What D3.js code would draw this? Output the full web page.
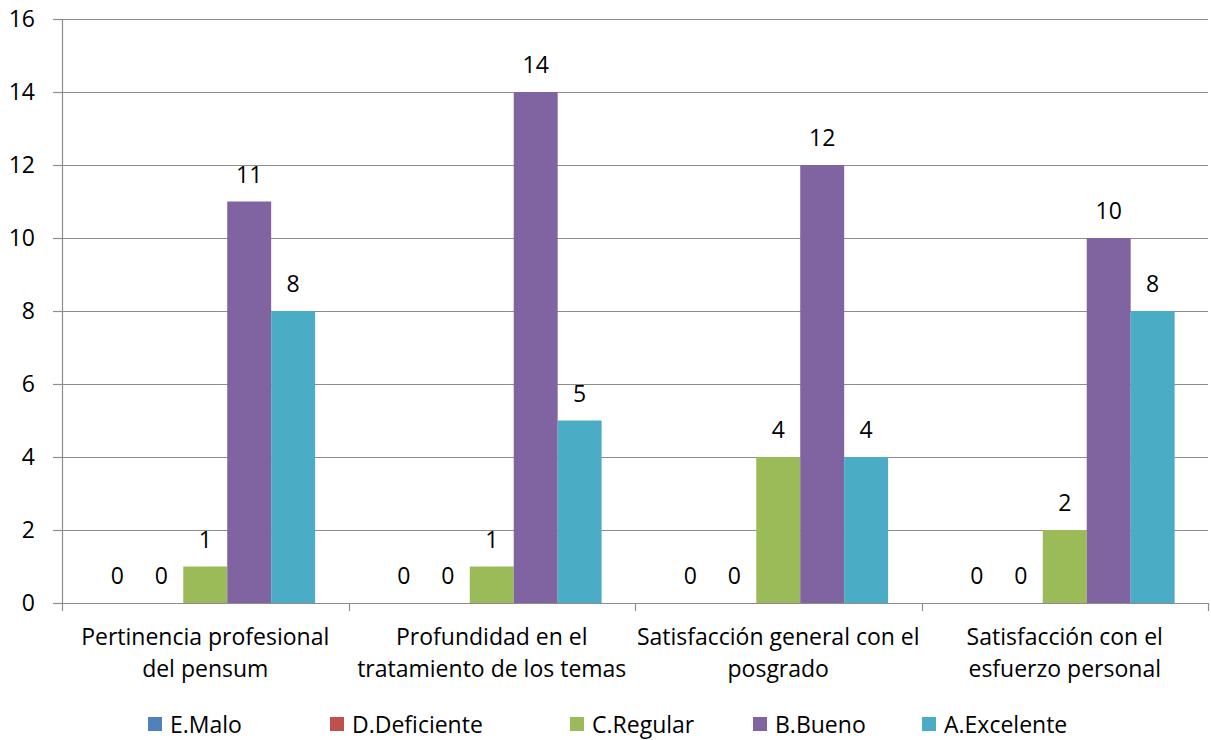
<!DOCTYPE html>
<html>
<head>
<meta charset="utf-8">
<script src="https://cdn.jsdelivr.net/npm/d3@7"></script>
<style>
  html, body { margin: 0; padding: 0; background: #fff; }
  svg { display: block; font-family: "Open Sans", sans-serif; }
</style>
</head>
<body>
<svg id="chart" width="1211" height="740"></svg>
<script>
const categories = [
  "Pertinencia profesional\ndel pensum",
  "Profundidad en el\ntratamiento de los temas",
  "Satisfacción general con el\nposgrado",
  "Satisfacción con el\nesfuerzo personal"
];
const seriesNames = ["E.Malo", "D.Deficiente", "C.Regular", "B.Bueno", "A.Excelente"];
const seriesColors = ["#4F81BD", "#C0504D", "#9BBB59", "#8064A2", "#4BACC6"];
const eMalo = [0, 0, 0, 0];
const dDeficiente = [0, 0, 0, 0];
const cRegular = [1, 1, 4, 2];
const bBueno = [11, 14, 12, 10];
const aExcelente = [8, 5, 4, 8];
const yTicks = [0, 2, 4, 6, 8, 10, 12, 14, 16];

const seriesValues = [eMalo, dDeficiente, cRegular, bBueno, aExcelente];

const FS = 23;
const svg = d3.select("#chart");
const margin = { left: 62, right: 3, top: 19, bottom: 137 };
const W = 1211, H = 740;
const plotW = W - margin.left - margin.right;
const plotH = H - margin.top - margin.bottom;

const g = svg.append("g").attr("transform", `translate(${margin.left},${margin.top})`);

const x0 = d3.scaleBand().domain(categories).range([0, plotW]).padding(0);
const x1 = d3.scaleBand().domain(seriesNames).range([0, x0.bandwidth()]).paddingInner(0).paddingOuter(0.76);
const y = d3.scaleLinear().domain([0, 16]).range([plotH, 0]);

// gridlines
g.append("g")
  .selectAll("line")
  .data(yTicks)
  .join("line")
  .attr("x1", 0).attr("x2", plotW)
  .attr("y1", d => Math.round(y(d)) + 0.5).attr("y2", d => Math.round(y(d)) + 0.5)
  .attr("stroke", "#8c8c8c").attr("stroke-width", 1.2);

// y axis
const yAxis = g.append("g")
  .call(d3.axisLeft(y).tickValues(yTicks).tickSize(9).tickPadding(18).tickFormat(d3.format("d")));
yAxis.attr("font-family", null).attr("font-size", null);
yAxis.select(".domain").attr("stroke", "#8c8c8c").attr("stroke-width", 1.2);
yAxis.selectAll(".tick line").attr("stroke", "#8c8c8c").attr("stroke-width", 1.2);
yAxis.selectAll(".tick text").attr("fill", "#000").attr("font-size", FS).attr("dy", "0.34em");

// bars
const groups = g.append("g").selectAll("g")
  .data(categories)
  .join("g")
  .attr("transform", d => `translate(${x0(d)},0)`);

const barData = (c, ci) => seriesNames.map((s, si) => ({ s, si, v: seriesValues[si][ci] }));

groups.each(function(c, ci) {
  const gg = d3.select(this);
  const data = barData(c, ci);
  gg.selectAll("rect")
    .data(data)
    .join("rect")
    .attr("x", d => x1(d.s))
    .attr("width", x1.bandwidth())
    .attr("y", d => y(d.v))
    .attr("height", d => y(0) - y(d.v))
    .attr("fill", d => seriesColors[d.si]);
  gg.selectAll("text")
    .data(data)
    .join("text")
    .attr("x", d => x1(d.s) + x1.bandwidth() / 2)
    .attr("y", d => y(d.v) - 19)
    .attr("text-anchor", "middle")
    .attr("font-size", FS)
    .attr("fill", "#000")
    .text(d => d.v);
});

// x axis
const xAxis = g.append("g").attr("transform", `translate(0,${plotH})`);
xAxis.append("line").attr("x1", 0).attr("x2", plotW).attr("y1", 0.5).attr("y2", 0.5)
  .attr("stroke", "#8c8c8c").attr("stroke-width", 1.2);
const boundaries = categories.map(c => x0(c)).concat([plotW]);
xAxis.selectAll("line.tk").data(boundaries).join("line").attr("class", "tk")
  .attr("x1", d => Math.round(d) + 0.5).attr("x2", d => Math.round(d) + 0.5)
  .attr("y1", 0).attr("y2", 8).attr("stroke", "#8c8c8c").attr("stroke-width", 1.2);

// category labels
categories.forEach(c => {
  const t = xAxis.append("text")
    .attr("x", x0(c) + x0.bandwidth() / 2)
    .attr("y", 42)
    .attr("text-anchor", "middle")
    .attr("font-size", FS)
    .attr("fill", "#000");
  c.split("\n").forEach((l, i) => {
    t.append("tspan").attr("x", x0(c) + x0.bandwidth() / 2).attr("dy", i === 0 ? 0 : 32).text(l);
  });
});

// legend
const legendX = [148, 330, 570, 753, 922];
const legend = svg.append("g").attr("transform", `translate(0,${H - 23})`);
seriesNames.forEach((s, i) => {
  legend.append("rect").attr("x", legendX[i]).attr("y", 0).attr("width", 14).attr("height", 14)
    .attr("fill", seriesColors[i]);
  legend.append("text").attr("x", legendX[i] + 22).attr("y", 16)
    .attr("font-size", FS).attr("fill", "#000").text(s);
});
</script>
</body>
</html>
